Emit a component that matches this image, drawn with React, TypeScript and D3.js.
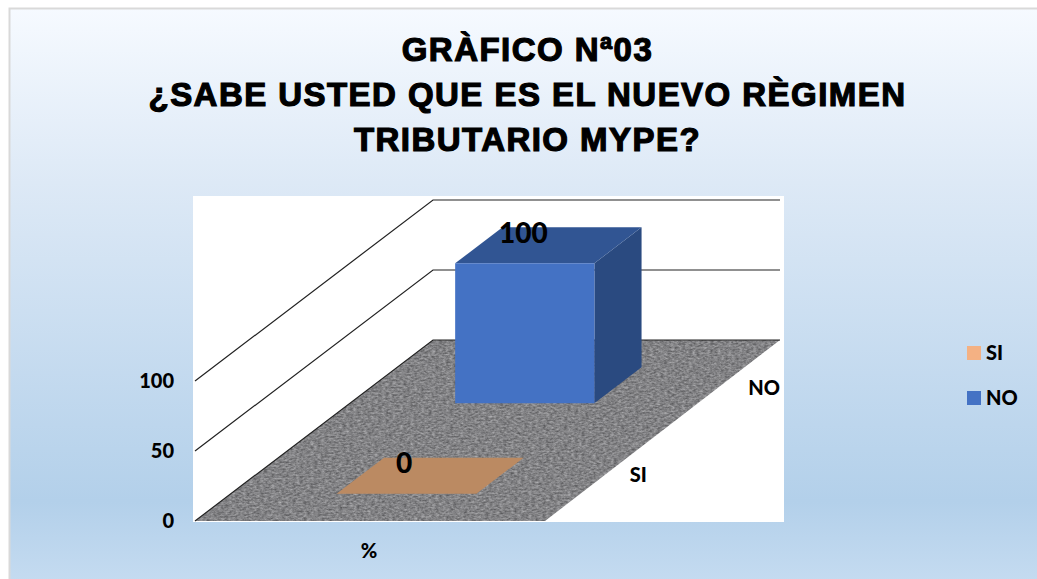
import React from "react";
import * as d3 from "d3";

const WIDTH = 1037;
const HEIGHT = 579;
const titleLines = ["GRÀFICO Nª03", "¿SABE USTED QUE ES EL NUEVO RÈGIMEN", "TRIBUTARIO MYPE?"];
const categories = ["SI", "NO"];
const seriesValues = [0, 100];
const seriesColors = ["#f4b183", "#4472c4"];
const floorBarColors = ["#bb8a62", "#4472c4"];
const topColor = "#315593";
const sideColor = "#2a4a80";
const valueTicks = [0, 50, 100];
const axisTitle = "%";

const depth = d3.scaleBand<string>().domain(categories).range([0, 1]).paddingInner(0.6).paddingOuter(0.3);
const height = d3.scaleLinear().domain([0, 100]).range([0, 140]);
const widthAtDepth = d3.scaleLinear().domain([0, 1]).range([350, 347]);

const ORIGIN = { x: 195, y: 521 };
const DEPTH_VEC = { x: 238, y: -181 };

function project(u: number, d: number, v: number): [number, number] {
  return [ORIGIN.x + u * widthAtDepth(d) + d * DEPTH_VEC.x, ORIGIN.y + d * DEPTH_VEC.y - height(v)];
}
const poly = (pts: [number, number][]) => pts.map((p) => p.join(",")).join(" ");
const line = d3.line();
const LABEL_FONT = "Lato, sans-serif";

export default function App() {
  return (
    <svg
      width={WIDTH}
      height={HEIGHT}
      viewBox={`0 0 ${WIDTH} ${HEIGHT}`}
      style={{ position: "absolute", left: 0, top: 0, display: "block", background: "#fff" }}
    >
      <defs>
        <linearGradient id="bg" x1="0" y1="0" x2="0" y2="1">
          <stop offset="0" stopColor="#f6faff" />
          <stop offset="0.3" stopColor="#dde9f6" />
          <stop offset="0.85" stopColor="#b3d0ea" />
          <stop offset="1" stopColor="#c6dcf1" />
        </linearGradient>
        <filter id="grain" x="0" y="0" width="1" height="1" colorInterpolationFilters="sRGB">
          <feTurbulence type="fractalNoise" baseFrequency="0.28 0.55" numOctaves={3} seed={4} />
          <feColorMatrix
            type="matrix"
            values="0.42 0 0 0 0.3  0.42 0 0 0 0.3  0.42 0 0 0 0.31  0 0 0 0 1"
          />
          <feGaussianBlur stdDeviation={0.5} />
          <feComposite in2="SourceGraphic" operator="in" />
        </filter>
      </defs>
      <rect x={9.5} y={8.5} width={1040} height={580} fill="url(#bg)" stroke="#d9d9d9" strokeWidth={2} />

      {titleLines.map((t, i) => (
        <text
          key={t}
          x={527.5}
          y={61 + i * 45}
          textAnchor="middle"
          fontFamily="'Liberation Sans', Arial, sans-serif"
          fontWeight={700}
          fontSize={33}
          letterSpacing={1.45}
          stroke="#000"
          strokeWidth={1.2}
          fill="#000"
        >
          {t}
        </text>
      ))}

      <rect x={193} y={196} width={591} height={326} fill="#fff" />

      {/* floor */}
      <polygon
        points={poly([project(0, 0, 0), project(1, 0, 0), project(1, 1, 0), project(0, 1, 0)])}
        fill="#808080"
        filter="url(#grain)"
      />

      {/* grid lines on the side and back walls */}
      {valueTicks.map((v) => (
        <path
          key={v}
          d={line([project(0, 0, v), project(0, 1, v), project(1, 1, v)]) ?? ""}
          fill="none"
          stroke="#222"
          strokeWidth={1.2}
        />
      ))}

      {/* bars */}
      {categories.map((c, i) => {
        const d0 = depth(c)!;
        const d1 = d0 + depth.bandwidth();
        const v = seriesValues[i];
        const u0 = 0.303;
        const u1 = 0.703;
        return (
          <g key={c}>
            {v > 0 && (
              <>
                <polygon points={poly([project(u1, d0, 0), project(u1, d1, 0), project(u1, d1, v), project(u1, d0, v)])} fill={sideColor} />
                <polygon points={poly([project(u0, d0, v), project(u1, d0, v), project(u1, d1, v), project(u0, d1, v)])} fill={topColor} />
                <polygon points={poly([project(u0, d0, 0), project(u1, d0, 0), project(u1, d0, v), project(u0, d0, v)])} fill={floorBarColors[i]} />
              </>
            )}
            {v === 0 && (
              <polygon points={poly([project(u0, d0, 0), project(u1, d0, 0), project(u1, d1, 0), project(u0, d1, 0)])} fill={floorBarColors[i]} />
            )}
          </g>
        );
      })}

      {/* data labels */}
      {categories.map((c, i) => {
        const [x, y] = project(0.5, depth(c)! + depth.bandwidth() / 2, seriesValues[i]);
        return (
          <text
            key={c}
            x={x - (i === 0 ? 25 : 24)}
            y={y + (i === 0 ? -3 : -2)}
            textAnchor="middle"
            fontFamily={LABEL_FONT}
            fontWeight={900}
            fontSize={28}
            fill="#000"
          >
            {seriesValues[i]}
          </text>
        );
      })}

      {/* value axis labels */}
      {valueTicks.map((v) => (
        <text key={v} x={174} y={project(0, 0, v)[1] + 7} textAnchor="end" fontFamily={LABEL_FONT} fontWeight={900} fontSize={20} fill="#000">
          {v}
        </text>
      ))}

      {/* depth axis labels */}
      {categories.map((c, i) => {
        const [x, y] = project(1, depth(c)! + depth.bandwidth() / 2, 0);
        return (
          <text key={c} x={x + (i === 0 ? 26 : 27)} y={y + (i === 0 ? 6 : 10)} textAnchor="start" fontFamily={LABEL_FONT} fontWeight={900} fontSize={20} fill="#000">
            {c}
          </text>
        );
      })}

      <text x={369} y={558} textAnchor="middle" fontFamily={LABEL_FONT} fontWeight={900} fontSize={20} fill="#000">
        {axisTitle}
      </text>

      {/* legend */}
      {categories.map((c, i) => (
        <g key={c} transform={`translate(967,${346 + i * 45})`}>
          <rect width={14} height={14} fill={seriesColors[i]} />
          <text x={19} y={14} fontFamily={LABEL_FONT} fontWeight={900} fontSize={20} fill="#000">
            {c}
          </text>
        </g>
      ))}
    </svg>
  );
}
